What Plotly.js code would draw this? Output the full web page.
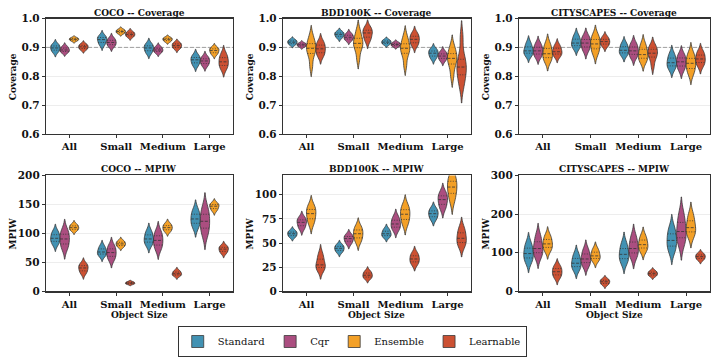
<!DOCTYPE html>
<html>
<head>
<meta charset="utf-8">
<script src="https://cdn.plot.ly/plotly-3.0.1.min.js"></script>
<style>
  html, body { margin: 0; padding: 0; background: #fff; }
  #chart { width: 713px; height: 357px; }
</style>
</head>
<body>
<div id="chart"></div>
<script>
const sizeLabels = ['All', 'Small', 'Medium', 'Large'];
const methods = ['Standard', 'Cqr', 'Ensemble', 'Learnable'];
const methodColors = ['rgba(46,134,171,0.9)', 'rgba(162,59,114,0.9)', 'rgba(241,143,1,0.85)', 'rgba(199,62,29,0.9)'];

// per-run values, one list per object size (All, Small, Medium, Large)
const cocoCovStandard = [
  [0.882, 0.888, 0.893, 0.898, 0.903, 0.907, 0.912],
  [0.907, 0.914, 0.920, 0.927, 0.932, 0.936, 0.941],
  [0.879, 0.885, 0.892, 0.898, 0.903, 0.908, 0.914],
  [0.836, 0.843, 0.850, 0.857, 0.862, 0.868, 0.874]];
const cocoCovCqr = [
  [0.881, 0.884, 0.888, 0.891, 0.895, 0.900, 0.904],
  [0.902, 0.907, 0.912, 0.917, 0.922, 0.927, 0.933],
  [0.880, 0.884, 0.888, 0.891, 0.895, 0.899, 0.904],
  [0.835, 0.841, 0.847, 0.853, 0.858, 0.863, 0.869]];
const cocoCovEnsemble = [
  [0.921, 0.924, 0.926, 0.928, 0.930, 0.932, 0.934],
  [0.947, 0.950, 0.952, 0.955, 0.958, 0.960, 0.963],
  [0.919, 0.922, 0.925, 0.928, 0.930, 0.933, 0.935],
  [0.874, 0.879, 0.884, 0.889, 0.893, 0.897, 0.900]];
const cocoCovLearnable = [
  [0.891, 0.894, 0.898, 0.902, 0.905, 0.909, 0.912],
  [0.935, 0.938, 0.942, 0.945, 0.948, 0.952, 0.955],
  [0.894, 0.898, 0.902, 0.906, 0.910, 0.914, 0.917],
  [0.825, 0.833, 0.842, 0.850, 0.860, 0.869, 0.879]];

const bddCovStandard = [
  [0.908, 0.911, 0.915, 0.918, 0.921, 0.924, 0.927],
  [0.932, 0.936, 0.941, 0.945, 0.948, 0.952, 0.955],
  [0.909, 0.912, 0.915, 0.918, 0.921, 0.924, 0.927],
  [0.860, 0.867, 0.873, 0.880, 0.885, 0.890, 0.895]];
const bddCovCqr = [
  [0.901, 0.904, 0.906, 0.909, 0.911, 0.913, 0.916],
  [0.923, 0.927, 0.931, 0.935, 0.940, 0.944, 0.949],
  [0.902, 0.905, 0.907, 0.910, 0.913, 0.915, 0.918],
  [0.853, 0.859, 0.865, 0.870, 0.875, 0.880, 0.886]];
const bddCovEnsemble = [
  [0.835, 0.872, 0.886, 0.897, 0.908, 0.918, 0.940],
  [0.860, 0.893, 0.905, 0.914, 0.925, 0.938, 0.960],
  [0.838, 0.873, 0.886, 0.897, 0.907, 0.918, 0.940],
  [0.800, 0.835, 0.850, 0.862, 0.872, 0.885, 0.905]];
const bddCovLearnable = [
  [0.869, 0.877, 0.886, 0.895, 0.904, 0.912, 0.921],
  [0.921, 0.931, 0.940, 0.950, 0.956, 0.963, 0.970],
  [0.905, 0.912, 0.920, 0.928, 0.935, 0.942, 0.950],
  [0.765, 0.795, 0.815, 0.832, 0.848, 0.870, 0.935]];

const cityCovStandard = [
  [0.871, 0.877, 0.883, 0.888, 0.897, 0.907, 0.917],
  [0.896, 0.903, 0.909, 0.915, 0.924, 0.933, 0.943],
  [0.872, 0.878, 0.884, 0.890, 0.898, 0.907, 0.915],
  [0.824, 0.832, 0.840, 0.847, 0.858, 0.868, 0.879]];
const cityCovCqr = [
  [0.866, 0.873, 0.881, 0.888, 0.896, 0.905, 0.914],
  [0.887, 0.897, 0.906, 0.915, 0.923, 0.932, 0.940],
  [0.864, 0.872, 0.880, 0.888, 0.897, 0.906, 0.915],
  [0.821, 0.831, 0.840, 0.850, 0.859, 0.868, 0.877]];
const cityCovEnsemble = [
  [0.851, 0.860, 0.869, 0.878, 0.890, 0.902, 0.914],
  [0.877, 0.889, 0.901, 0.912, 0.922, 0.933, 0.943],
  [0.850, 0.858, 0.867, 0.875, 0.887, 0.900, 0.912],
  [0.808, 0.821, 0.833, 0.845, 0.856, 0.868, 0.880]];
const cityCovLearnable = [
  [0.868, 0.874, 0.880, 0.885, 0.893, 0.901, 0.909],
  [0.903, 0.909, 0.914, 0.920, 0.925, 0.931, 0.937],
  [0.835, 0.862, 0.871, 0.880, 0.889, 0.898, 0.907],
  [0.835, 0.843, 0.852, 0.860, 0.869, 0.878, 0.887]];

const cocoMpiwStandard = [
  [80.9, 84.6, 88.2, 91.7, 95.8, 99.9, 104.1],
  [60.9, 63.3, 65.7, 68.0, 71.6, 75.2, 78.9],
  [79.5, 83.2, 86.9, 90.5, 95.2, 100.0, 104.8],
  [109.9, 115.0, 120.1, 125.0, 130.4, 136.0, 141.6]];
const cocoMpiwCqr = [
  [73.1, 78.9, 84.8, 90.5, 95.9, 101.4, 106.9],
  [54.0, 58.4, 62.7, 67.0, 71.3, 75.6, 80.0],
  [71.9, 77.3, 82.7, 88.0, 93.3, 98.7, 104.1],
  [97.1, 105.1, 113.2, 121.0, 129.0, 137.2, 145.4]];
const cocoMpiwEnsemble = [
  [104.3, 106.2, 108.1, 110.0, 112.0, 114.1, 116.2],
  [76.3, 78.2, 80.1, 82.0, 83.9, 85.8, 87.7],
  [102.7, 105.2, 107.6, 110.0, 112.4, 114.8, 117.3],
  [138.7, 141.5, 144.3, 147.0, 148.9, 150.8, 152.7]];
const cocoMpiwLearnable = [
  [30.4, 33.8, 37.2, 40.5, 43.1, 45.8, 48.6],
  [12.1, 12.9, 13.6, 14.4, 15.2, 16.1, 17.0],
  [26.1, 27.6, 29.1, 30.5, 32.4, 34.4, 36.3],
  [65.2, 67.8, 70.4, 73.0, 75.0, 77.1, 79.2]];

const bddMpiwStandard = [
  [55.9, 57.1, 58.4, 59.7, 60.8, 62.0, 63.2],
  [40.2, 41.7, 43.2, 44.6, 45.9, 47.3, 48.6],
  [55.9, 57.1, 58.4, 59.7, 61.4, 63.2, 65.0],
  [74.0, 76.2, 78.4, 80.5, 82.4, 84.3, 86.3]];
const bddMpiwCqr = [
  [64.5, 66.8, 69.2, 71.5, 73.2, 75.0, 76.7],
  [49.1, 51.0, 52.9, 54.7, 56.1, 57.6, 59.0],
  [63.1, 65.4, 67.6, 69.8, 72.4, 75.0, 77.7],
  [85.1, 88.4, 91.8, 95.0, 97.6, 100.2, 102.8]];
const bddMpiwEnsemble = [
  [69.7, 73.3, 77.0, 80.5, 83.4, 86.3, 89.2],
  [51.0, 53.9, 56.9, 59.7, 62.3, 64.9, 67.6],
  [69.0, 72.7, 76.3, 79.9, 83.0, 86.2, 89.5],
  [93.0, 99.0, 104.0, 108.0, 112.0, 116.0, 121.0]];
const bddMpiwLearnable = [
  [21.9, 23.8, 25.7, 27.5, 31.4, 35.4, 39.4],
  [13.0, 14.2, 15.5, 16.8, 18.3, 19.8, 21.3],
  [27.6, 29.6, 31.6, 33.6, 35.8, 38.0, 40.2],
  [46.2, 49.1, 52.1, 55.0, 58.7, 62.6, 66.4]];

const cityMpiwStandard = [
  [75.1, 82.8, 90.5, 98.0, 107.3, 116.8, 126.3],
  [55.3, 61.3, 67.2, 73.0, 81.2, 89.6, 98.0],
  [73.4, 81.0, 88.6, 96.0, 105.9, 116.0, 126.2],
  [102.4, 112.3, 122.3, 132.0, 143.2, 154.8, 166.3]];
const cityMpiwCqr = [
  [89.2, 96.5, 103.9, 111.0, 122.6, 134.5, 146.4],
  [65.0, 71.4, 77.8, 84.0, 92.5, 101.3, 110.0],
  [88.1, 95.8, 103.5, 111.0, 122.1, 133.4, 144.8],
  [122.5, 133.4, 144.4, 155.0, 170.6, 186.7, 202.8]];
const cityMpiwEnsemble = [
  [104.8, 110.9, 117.0, 123.0, 130.6, 138.4, 146.1],
  [78.5, 83.0, 87.6, 92.0, 98.3, 104.8, 111.2],
  [103.6, 109.4, 115.3, 121.0, 128.9, 137.0, 145.2],
  [142.9, 150.3, 157.8, 165.0, 176.7, 188.8, 200.9]];
const cityMpiwLearnable = [
  [34.4, 40.0, 45.6, 51.0, 56.4, 62.0, 67.6],
  [16.2, 19.1, 22.1, 25.0, 27.6, 30.2, 32.8],
  [38.7, 41.2, 43.6, 46.0, 48.6, 51.2, 53.8],
  [80.6, 83.8, 86.9, 90.0, 92.9, 95.9, 98.8]];

const panels = [
  {title: 'COCO -- Coverage', ylabel: 'Coverage', range: [0.6, 1.0], dtick: 0.1, ref: 0.9,
   series: [cocoCovStandard, cocoCovCqr, cocoCovEnsemble, cocoCovLearnable]},
  {title: 'BDD100K -- Coverage', ylabel: 'Coverage', range: [0.6, 1.0], dtick: 0.1, ref: 0.9,
   series: [bddCovStandard, bddCovCqr, bddCovEnsemble, bddCovLearnable]},
  {title: 'CITYSCAPES -- Coverage', ylabel: 'Coverage', range: [0.6, 1.0], dtick: 0.1, ref: 0.9,
   series: [cityCovStandard, cityCovCqr, cityCovEnsemble, cityCovLearnable]},
  {title: 'COCO -- MPIW', ylabel: 'MPIW', range: [0, 200], dtick: 50,
   series: [cocoMpiwStandard, cocoMpiwCqr, cocoMpiwEnsemble, cocoMpiwLearnable]},
  {title: 'BDD100K -- MPIW', ylabel: 'MPIW', range: [0, 120], dtick: 25,
   series: [bddMpiwStandard, bddMpiwCqr, bddMpiwEnsemble, bddMpiwLearnable]},
  {title: 'CITYSCAPES -- MPIW', ylabel: 'MPIW', range: [0, 300], dtick: 100,
   series: [cityMpiwStandard, cityMpiwCqr, cityMpiwEnsemble, cityMpiwLearnable]},
];

const xDomains = [[0.0645, 0.3268], [0.3969, 0.6606], [0.7279, 0.9958]];
const yDomains = [[0.6148, 0.9468], [0.1625, 0.4958]];
const xRange = [-0.5, 3.5];
const offsets = [-0.3, -0.1, 0.1, 0.3];
const violinWidth = 0.2;
const ink = '#333333';
const serif = 'DejaVu Serif';

// linear-interpolated percentile, like numpy's default
function quantile(sorted, p) {
  const pos = (sorted.length - 1) * p;
  const lo = Math.floor(pos), hi = Math.ceil(pos);
  return sorted[lo] + (sorted[hi] - sorted[lo]) * (pos - lo);
}

// Silverman's rule, same as plotly uses by default
function silverman(vals) {
  const n = vals.length;
  const mean = vals.reduce((a, b) => a + b, 0) / n;
  const sd = Math.sqrt(vals.reduce((a, v) => a + (v - mean) * (v - mean), 0) / (n - 1));
  const sorted = vals.slice().sort((a, b) => a - b);
  const iqr = quantile(sorted, 0.75) - quantile(sorted, 0.25);
  return 1.059 * Math.min(sd, iqr / 1.349) * Math.pow(n, -0.2);
}

function density(vals, bw, t) {
  let s = 0;
  for (const v of vals) {
    const z = (t - v) / bw;
    s += Math.exp(-0.5 * z * z);
  }
  return s / (vals.length * bw * Math.sqrt(2 * Math.PI));
}

// max of the kde over the same grid plotly walks for a 'soft' span
function peakDensity(vals, bw) {
  const lo = Math.min(...vals) - 2 * bw, hi = Math.max(...vals) + 2 * bw;
  const steps = Math.ceil((hi - lo) / (bw / 3));
  const step = (hi - lo) / steps;
  let peak = 0;
  for (let t = lo; t < hi + step / 2; t += step) peak = Math.max(peak, density(vals, bw, t));
  return peak;
}

const traces = [];
const annotations = [];
const shapes = [];
const layout = {
  width: 713, height: 357,
  margin: {l: 0, r: 0, t: 0, b: 0},
  paper_bgcolor: '#ffffff', plot_bgcolor: '#ffffff',
  violinmode: 'overlay',
  showlegend: true,
  legend: {
    orientation: 'h', x: 0.494, xanchor: 'center', y: 0.062, yanchor: 'top',
    bordercolor: ink, borderwidth: 1, bgcolor: '#ffffff',
    font: {family: serif, size: 10, color: '#111'},
  },
};

panels.forEach((p, i) => {
  const n = i + 1;
  const sfx = n === 1 ? '' : String(n);
  const xa = 'x' + sfx, ya = 'y' + sfx;
  const medLine = {x: [], y: []};
  const quartLine = {x: [], y: []};

  p.series.forEach((runs, m) => {
    runs.forEach((vals, c) => {
      const pos = c + offsets[m];
      const bw = silverman(vals);
      traces.push({
        type: 'violin', xaxis: xa, yaxis: ya,
        x0: pos, y: vals,
        width: violinWidth, bandwidth: bw,
        scalemode: 'width', scalegroup: `${xa}-${m}-${c}`, spanmode: 'soft',
        points: false, box: {visible: false}, meanline: {visible: false},
        fillcolor: methodColors[m],
        line: {color: '#3a3a3a', width: 0.8},
        name: methods[m], legendgroup: methods[m],
        showlegend: i === 0 && c === 0,
        hoveron: 'violins',
      });

      // quartile lines inside the violin, width taken from the kde
      const sorted = vals.slice().sort((a, b) => a - b);
      const peak = peakDensity(vals, bw);
      [0.25, 0.5, 0.75].forEach(q => {
        const v = quantile(sorted, q);
        const hw = violinWidth / 2 * density(vals, bw, v) / peak;
        const target = q === 0.5 ? medLine : quartLine;
        target.x.push(pos - hw, pos + hw, null);
        target.y.push(v, v, null);
      });
    });
  });

  traces.push({type: 'scatter', mode: 'lines', xaxis: xa, yaxis: ya, x: quartLine.x, y: quartLine.y,
    line: {color: ink, width: 0.8, dash: '1px,1.5px'}, showlegend: false, hoverinfo: 'skip'});
  traces.push({type: 'scatter', mode: 'lines', xaxis: xa, yaxis: ya, x: medLine.x, y: medLine.y,
    line: {color: ink, width: 0.8, dash: '3px,1.5px'}, showlegend: false, hoverinfo: 'skip'});

  const row = i < 3 ? 0 : 1;
  layout['xaxis' + sfx] = {
    domain: xDomains[i % 3], anchor: ya, range: xRange,
    tickvals: [0, 1, 2, 3], ticktext: sizeLabels,
    showgrid: false, zeroline: false,
    showline: true, mirror: true, linecolor: ink, linewidth: 1.2,
    ticks: 'outside', ticklen: 3, tickwidth: 1, tickcolor: ink,
    tickfont: {family: serif, size: 10, weight: 'bold', color: '#111'},
    fixedrange: true,
  };
  layout['yaxis' + sfx] = {
    domain: yDomains[row], anchor: xa, range: p.range, dtick: p.dtick,
    tickformat: p.ref ? '.1f' : 'd',
    showgrid: true, gridcolor: '#e8e8e8', gridwidth: 0.8, zeroline: false,
    showline: true, mirror: true, linecolor: ink, linewidth: 1.2,
    ticks: 'outside', ticklen: 3, tickwidth: 1, tickcolor: ink,
    tickfont: {family: serif, size: 10.5, weight: 'bold', color: '#111'},
    fixedrange: true,
  };

  annotations.push({
    text: '<b>' + p.title + '</b>', xref: xa + ' domain', yref: ya + ' domain',
    x: 0.5, y: 1, xanchor: 'center', yanchor: 'bottom', yshift: -1, showarrow: false,
    font: {family: serif, size: 9, color: '#111'},
  });
  annotations.push({
    text: '<b>' + p.ylabel + '</b>', xref: xa + ' domain', yref: ya + ' domain',
    x: 0, y: 0.5, xanchor: 'center', yanchor: 'middle', xshift: -33, textangle: -90,
    showarrow: false, font: {family: serif, size: 9, color: '#111'},
  });
  if (row === 1) {
    annotations.push({
      text: '<b>Object Size</b>', xref: xa + ' domain', yref: ya + ' domain',
      x: 0.5, y: 0, xanchor: 'center', yanchor: 'middle', yshift: -24, showarrow: false,
      font: {family: serif, size: 9, color: '#111'},
    });
  }
  if (p.ref) {
    // nominal coverage level, drawn under the violins
    shapes.push({
      type: 'line', xref: xa, yref: ya, x0: xRange[0], x1: xRange[1], y0: p.ref, y1: p.ref,
      line: {color: '#a0a0a0', width: 1, dash: '4px,2px'}, layer: 'between',
    });
  }
});

layout.annotations = annotations;
layout.shapes = shapes;

Plotly.newPlot('chart', traces, layout, {staticPlot: true, displayModeBar: false});
</script>
</body>
</html>
